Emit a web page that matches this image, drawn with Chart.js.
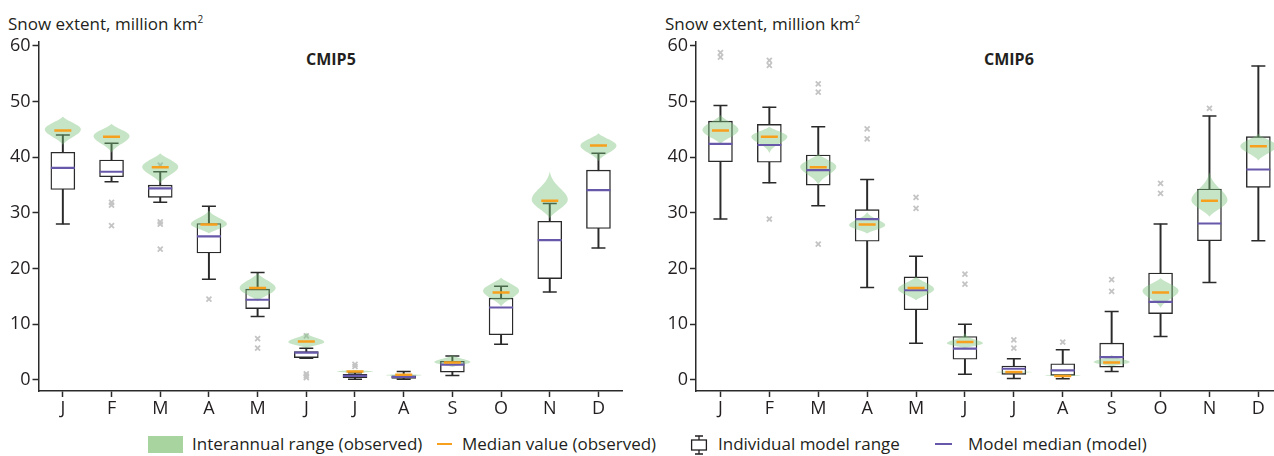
<!DOCTYPE html>
<html>
<head>
<meta charset="utf-8">
<script src="https://cdn.jsdelivr.net/npm/chart.js@4"></script>
<style>
  html, body { margin: 0; padding: 0; background: #fff; }
  body { width: 1274px; height: 456px; position: relative; overflow: hidden; font-family: "Open Sans", sans-serif; color: #231f20; }
  canvas { position: absolute; top: 0; }
  #chart5 { left: 0; }
  #chart6 { left: 637px; }
  .lbl { position: absolute; font-size: 17px; line-height: 20px; white-space: nowrap; }
  .ttl { position: absolute; font-size: 16px; font-weight: bold; line-height: 20px; }
  .sw { position: absolute; }
</style>
</head>
<body>
<div class="lbl" style="left:8px; top:9px;">Snow extent, million km<sup style="font-size:10px">2</sup></div>
<div class="lbl" style="left:665px; top:9px;">Snow extent, million km<sup style="font-size:10px">2</sup></div>
<div class="ttl" style="left:306px; top:49px;">CMIP5</div>
<div class="ttl" style="left:984px; top:49px;">CMIP6</div>

<canvas id="chart5" width="637" height="425"></canvas>
<canvas id="chart6" width="660" height="425"></canvas>

<div id="legend">
  <div class="sw" style="left:148px; top:436px; width:35px; height:17px; background:rgb(168,212,160);"></div>
  <div class="lbl" style="left:192px; top:434px;">Interannual range (observed)</div>
  <div class="sw" style="left:437px; top:443px; width:15px; height:2px; background:rgb(247,160,30);"></div>
  <div class="lbl" style="left:462px; top:434px;">Median value (observed)</div>
  <svg class="sw" style="left:689px; top:435px;" width="20" height="20" viewBox="0 0 20 20">
    <path d="M10 1 V5 M10 15 V19 M6 1 H14 M6 19 H14" stroke="#231f20" stroke-width="1.3" fill="none"/>
    <rect x="2.6" y="5" width="14.8" height="10" stroke="#231f20" stroke-width="1.3" fill="#fff"/>
  </svg>
  <div class="lbl" style="left:718px; top:434px;">Individual model range</div>
  <div class="sw" style="left:935px; top:443px; width:17px; height:2px; background:rgb(104,88,170);"></div>
  <div class="lbl" style="left:968px; top:434px;">Model median (model)</div>
</div>

<script>
const months = ["J", "F", "M", "A", "M", "J", "J", "A", "S", "O", "N", "D"];
const yTicks = [0, 10, 20, 30, 40, 50, 60];

// CMIP5 panel
const obsMedian5 = [44.8, 43.7, 38.2, 27.9, 16.5, 6.9, 1.5, 0.9, 3.1, 15.7, 32.2, 42.1];
const violinLow5 = [42.2, 40.8, 35.3, 26.3, 14.1, 5.7, 1.2, 0.6, 2.3, 13.2, 29.0, 39.3];
const violinMode5 = [45.0, 43.8, 38.3, 28.0, 16.5, 6.8, 1.5, 0.85, 3.2, 16.0, 32.4, 42.1];
const violinHigh5 = [47.3, 46.0, 40.7, 30.5, 19.2, 8.5, 1.8, 1.1, 4.5, 18.4, 37.5, 44.3];
const whiskerHigh5 = [44.0, 42.5, 37.4, 31.2, 19.3, 5.7, 1.3, 1.5, 4.3, 16.8, 31.7, 40.7];
const boxHigh5 = [40.9, 39.5, 35.0, 28.1, 16.3, 5.1, 1.0, 0.72, 3.35, 14.7, 28.5, 37.7];
const modelMedian5 = [38.1, 37.4, 34.4, 25.8, 14.4, 4.9, 0.7, 0.54, 2.75, 13.0, 25.1, 34.1];
const boxLow5 = [34.2, 36.5, 32.8, 22.8, 12.8, 4.0, 0.4, 0.25, 1.4, 8.1, 18.2, 27.2];
const whiskerLow5 = [28.0, 35.6, 31.9, 18.1, 11.4, 3.9, 0.1, 0.12, 0.8, 6.4, 15.8, 23.7];
const outlierMonth5 = [1, 1, 1, 2, 2, 2, 2, 3, 4, 4, 5, 5, 5, 5, 6, 6];
const outlierValue5 = [31.9, 31.4, 27.7, 38.6, 28.4, 28.0, 23.5, 14.5, 7.4, 5.7, 7.9, 1.1, 0.7, 0.4, 2.8, 2.4];

// CMIP6 panel
const obsMedian6 = [44.8, 43.7, 38.2, 27.9, 16.5, 6.8, 1.4, 0.7, 3.1, 15.7, 32.2, 42.0];
const violinLow6 = [42.4, 40.7, 35.0, 26.3, 14.3, 5.7, 1.2, 0.6, 2.4, 12.9, 29.3, 39.4];
const violinMode6 = [44.9, 43.7, 38.3, 27.8, 16.3, 6.6, 1.4, 0.8, 3.2, 16.0, 32.3, 42.0];
const violinHigh6 = [47.6, 45.5, 40.6, 30.2, 18.6, 8.4, 1.6, 1.0, 4.5, 18.3, 37.4, 44.2];
const whiskerHigh6 = [49.3, 49.0, 45.5, 36.0, 22.2, 10.0, 3.8, 5.4, 12.3, 28.0, 47.4, 56.4];
const boxHigh6 = [46.5, 45.9, 40.4, 30.6, 18.5, 7.8, 2.5, 2.9, 6.6, 19.2, 34.3, 43.7];
const modelMedian6 = [42.4, 42.2, 37.7, 28.9, 16.1, 5.6, 2.0, 1.7, 4.1, 14.0, 28.1, 37.8];
const boxLow6 = [39.2, 39.1, 35.0, 24.9, 12.6, 3.7, 1.0, 0.8, 2.3, 11.9, 25.0, 34.6];
const whiskerLow6 = [28.9, 35.4, 31.3, 16.6, 6.6, 1.0, 0.24, 0.2, 1.5, 7.8, 17.5, 25.0];
const outlierMonth6 = [0, 0, 1, 1, 1, 2, 2, 2, 3, 3, 4, 4, 5, 5, 6, 6, 7, 8, 8, 9, 9, 10];
const outlierValue6 = [58.8, 58.0, 57.4, 56.5, 28.9, 53.2, 51.7, 24.4, 45.1, 43.3, 32.8, 30.8, 19.0, 17.2, 7.2, 5.7, 6.8, 18.0, 15.9, 35.3, 33.5, 48.8];

const textColor = "#231f20";
const axisColor = "#2a2a2a";
const violinColor = "rgba(120, 190, 120, 0.42)";
const orange = "rgb(247, 160, 30)";
const purple = "rgb(104, 88, 170)";
const outlierColor = "#c4c4c4";

// density-like outline: full body near the mode, thin tail when one side is long
function violinWidth(d, span, body) {
  const t = Math.min(d / span, 1);
  const core = Math.exp(-Math.pow(d / body, 2) * 0.9);
  return Math.pow(1 - t * t, 1.2) * (0.15 + 0.85 * core);
}

function makeViolinPlugin(low, mode, high) {
  return {
    id: "violins",
    afterDatasetDraw(chart, args) {
      if (chart.data.datasets[args.index].label !== "Individual model range") return;
      const xScale = chart.scales.x;
      const yScale = chart.scales.y;
      const ctx = chart.ctx;
      const half = 18;
      ctx.save();
      ctx.fillStyle = violinColor;
      mode.forEach((m, i) => {
        const cx = xScale.getPixelForValue(i);
        const up = high[i] - m;
        const down = m - low[i];
        const body = Math.min(up, down, 3);
        const pts = [];
        const steps = 60;
        for (let k = 0; k <= steps; k++) {
          const v = low[i] + ((high[i] - low[i]) * k) / steps;
          const w = v >= m ? violinWidth(v - m, up, body) : violinWidth(m - v, down, body);
          pts.push([half * w, yScale.getPixelForValue(v)]);
        }
        ctx.beginPath();
        pts.forEach(([w, py], k) => (k === 0 ? ctx.moveTo(cx + w, py) : ctx.lineTo(cx + w, py)));
        for (let k = pts.length - 1; k >= 0; k--) ctx.lineTo(cx - pts[k][0], pts[k][1]);
        ctx.closePath();
        ctx.fill();
      });
      ctx.restore();
    },
  };
}

function toPoints(values) {
  return values.map((v, i) => ({ x: i, y: v }));
}

function buildChart(canvasId, p, axisWidth, rightPad) {
  const caps = toPoints(p.whiskerHigh).concat(toPoints(p.whiskerLow));
  return new Chart(document.getElementById(canvasId), {
    type: "scatter",
    data: {
      datasets: [
        {
          label: "Median value (observed)",
          data: toPoints(p.obsMedian),
          pointStyle: "line",
          radius: 8.5,
          borderColor: orange,
          borderWidth: 2.5,
          order: 0,
        },
        {
          label: "Model median (model)",
          data: toPoints(p.modelMedian),
          pointStyle: "line",
          radius: 12,
          borderColor: purple,
          borderWidth: 2.2,
          order: 1,
        },
        {
          type: "bar",
          label: "Individual model range",
          data: p.boxLow.map((lo, i) => ({ x: i, y: [lo, p.boxHigh[i]] })),
          backgroundColor: "#ffffff",
          borderColor: axisColor,
          borderWidth: 1.4,
          borderSkipped: false,
          barThickness: 24,
          grouped: false,
          order: 2,
        },
        {
          label: "caps",
          data: caps,
          pointStyle: "line",
          radius: 7,
          borderColor: axisColor,
          borderWidth: 1.5,
          order: 3,
        },
        {
          type: "bar",
          label: "whiskers",
          data: p.whiskerLow.map((lo, i) => ({ x: i, y: [lo, p.whiskerHigh[i]] })),
          backgroundColor: axisColor,
          borderWidth: 0,
          barThickness: 1.3,
          grouped: false,
          order: 4,
        },
        {
          label: "outliers",
          data: p.outlierMonth.map((m, i) => ({ x: m, y: p.outlierValue[i] })),
          pointStyle: "crossRot",
          radius: 3.5,
          borderColor: outlierColor,
          borderWidth: 1.8,
          order: 5,
        },
      ],
    },
    options: {
      responsive: false,
      animation: false,
      devicePixelRatio: 1,
      events: [],
      layout: { padding: { top: 41.5, right: rightPad, bottom: 0, left: 0 } },
      plugins: { legend: { display: false }, tooltip: { enabled: false } },
      scales: {
        x: {
          type: "linear",
          min: -0.5,
          max: 11.5,
          offset: false,
          afterBuildTicks: (s) => {
            s.ticks = months.map((m, i) => ({ value: i }));
          },
          afterFit: (s) => {
            s.height = 34;
          },
          ticks: {
            callback: (v) => months[v],
            color: textColor,
            font: { family: "Open Sans", size: 18 },
            padding: 1,
            autoSkip: false,
            maxRotation: 0,
          },
          grid: { drawOnChartArea: false, tickLength: 6, tickColor: axisColor, tickWidth: 1.5, offset: false },
          border: { color: axisColor, width: 1.5 },
        },
        y: {
          min: -2,
          max: 60.8,
          afterBuildTicks: (s) => {
            s.ticks = yTicks.map((v) => ({ value: v }));
          },
          afterFit: (s) => {
            s.width = axisWidth;
          },
          ticks: {
            color: textColor,
            font: { family: "Open Sans", size: 18 },
            padding: 2,
          },
          grid: { drawOnChartArea: false, tickLength: 6, tickColor: axisColor, tickWidth: 1.5 },
          border: { color: axisColor, width: 1.5 },
        },
      },
    },
    plugins: [makeViolinPlugin(p.violinLow, p.violinMode, p.violinHigh)],
  });
}

buildChart(
  "chart5",
  {
    obsMedian: obsMedian5,
    modelMedian: modelMedian5,
    boxLow: boxLow5,
    boxHigh: boxHigh5,
    whiskerLow: whiskerLow5,
    whiskerHigh: whiskerHigh5,
    violinLow: violinLow5,
    violinMode: violinMode5,
    violinHigh: violinHigh5,
    outlierMonth: outlierMonth5,
    outlierValue: outlierValue5,
  },
  38.5,
  12
);

buildChart(
  "chart6",
  {
    obsMedian: obsMedian6,
    modelMedian: modelMedian6,
    boxLow: boxLow6,
    boxHigh: boxHigh6,
    whiskerLow: whiskerLow6,
    whiskerHigh: whiskerHigh6,
    violinLow: violinLow6,
    violinMode: violinMode6,
    violinHigh: violinHigh6,
    outlierMonth: outlierMonth6,
    outlierValue: outlierValue6,
  },
  59,
  14
);
</script>
</body>
</html>
